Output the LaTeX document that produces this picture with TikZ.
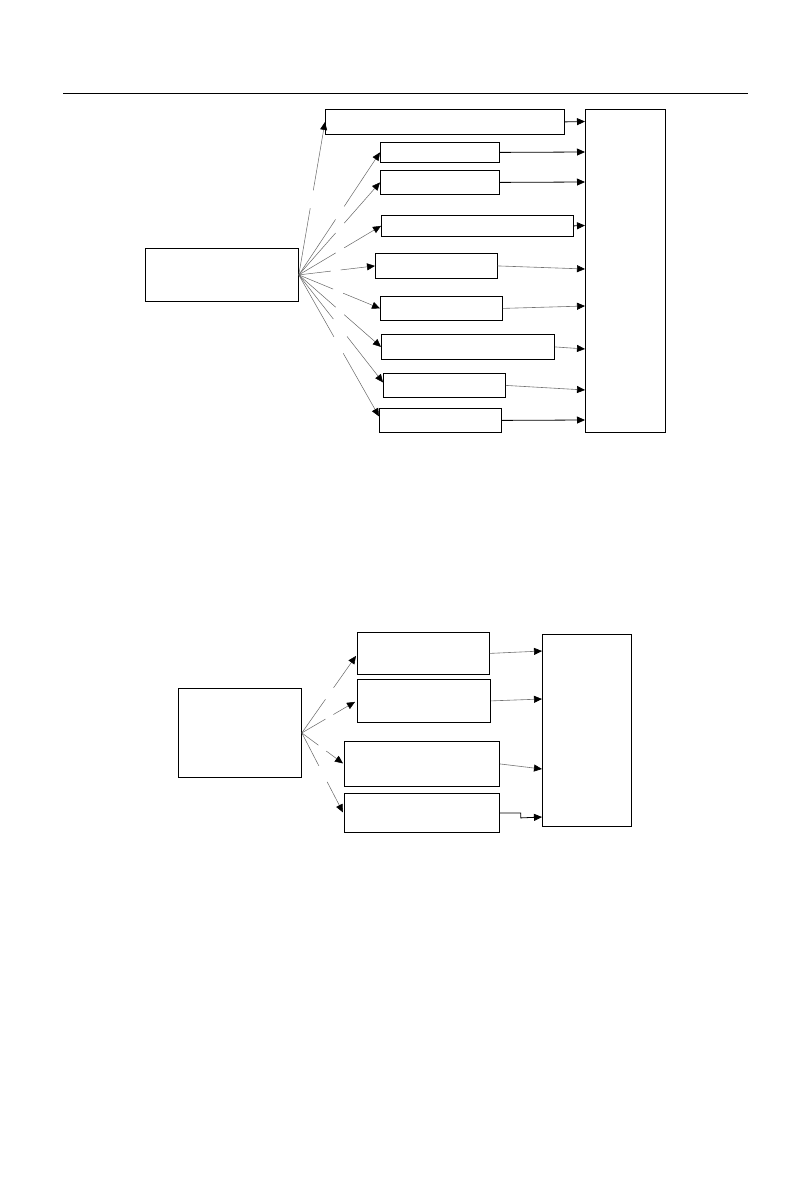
\documentclass[tikz,border=0pt]{standalone}
\usetikzlibrary{arrows.meta,calc}
\newcommand\gapline[5][]{%
  \draw[fanl] (#2) -- ($(#2)!#4!(#3)$);
  \draw[fanl,-{Triangle[length=8pt,width=7pt,color=black]},#1] ($(#2)!#5!(#3)$) -- (#3);}
\tikzset{
  box/.style={draw,line width=0.8pt,inner sep=0pt,anchor=north west},
  fanl/.style={draw=black!60,line width=0.5pt},
  arrk/.style={draw,line width=0.8pt,-{Triangle[length=8pt,width=7pt]}},
  arrg/.style={draw=black!55,line width=0.6pt,-{Triangle[length=8pt,width=7pt,color=black]}}
}
\begin{document}
\begin{tikzpicture}[x=1pt,y=-1pt]
\useasboundingbox (0,0) rectangle (811,1191);
\draw[line width=1pt] (63,93) -- (748,93);
% diagram 1
\node[box,minimum width=153pt,minimum height=53pt] (src) at (145,248) {};
\node[box,minimum width=80pt,minimum height=323pt] (big) at (585,109) {};
\node[box,minimum width=239pt,minimum height=25pt] (b1) at (325,109) {};
\node[box,minimum width=119pt,minimum height=20pt] (b2) at (380,142) {};
\node[box,minimum width=119pt,minimum height=24pt] (b3) at (380,170) {};
\node[box,minimum width=191.5pt,minimum height=21pt] (b4) at (381,215) {};
\node[box,minimum width=121.5pt,minimum height=25pt] (b5) at (375,253) {};
\node[box,minimum width=122pt,minimum height=24pt] (b6) at (380,296) {};
\node[box,minimum width=173pt,minimum height=25pt] (b7) at (381,334) {};
\node[box,minimum width=122pt,minimum height=24pt] (b8) at (383,373) {};
\node[box,minimum width=121.5pt,minimum height=24pt] (b9) at (379,408) {};
\coordinate (o1) at (src.east);
\coordinate (t8) at ($(b8.west)+(0,-3)$);
\coordinate (t9) at ($(b9.west)+(0,-4)$);
\gapline{o1}{b1.west}{0.436}{0.553}
\gapline{o1}{b2.west}{0.453}{0.559}
\gapline{o1}{b3.west}{0.453}{0.559}
\gapline{o1}{b4.west}{0.448}{0.552}
\gapline{o1}{b5.west}{0.42}{0.549}
\gapline{o1}{b6.west}{0.423}{0.547}
\gapline{o1}{b7.west}{0.448}{0.552}
\gapline{o1}{t8}{0.41}{0.573}
\gapline{o1}{t9}{0.437}{0.554}
\draw[arrk] (b1.east) -- ($(big.north west)+(0,12.5)$);
\draw[arrk] (b2.east) -- ($(big.north west)+(0,43)$);
\draw[arrk] (b3.east) -- ($(big.north west)+(0,73)$);
\draw[arrk] (b4.east) -- ($(big.north west)+(0,116.5)$);
\draw[arrg] (b5.east) -- ($(big.north west)+(0,160)$);
\draw[arrg] (b6.east) -- ($(big.north west)+(0,197)$);
\draw[arrg] (b7.east) -- ($(big.north west)+(0,240)$);
\draw[arrg] (b8.east) -- ($(big.north west)+(0,281)$);
\draw[arrk] (b9.east) -- ($(big.north west)+(0,311)$);
% diagram 2
\node[box,minimum width=123pt,minimum height=89pt] (s2) at (178,688) {};
\node[box,minimum width=89pt,minimum height=192pt] (r2) at (542,634) {};
\node[box,minimum width=132pt,minimum height=42pt] (c1) at (357,632) {};
\node[box,minimum width=133pt,minimum height=43pt] (c2) at (357,679) {};
\node[box,minimum width=155pt,minimum height=45pt] (c3) at (344,741) {};
\node[box,minimum width=155pt,minimum height=39pt] (c4) at (344,793) {};
\coordinate (o2) at (s2.east);
\coordinate (u1) at ($(c1.west)+(-1,2.5)$);
\coordinate (u2) at ($(c2.west)+(-2,1)$);
\coordinate (u3) at ($(c3.west)+(-1,-0.5)$);
\coordinate (u4) at ($(c4.west)+(-1,-0.5)$);
\gapline{o2}{u1}{0.436}{0.587}
\gapline{o2}{u2}{0.444}{0.593}
\gapline{o2}{u3}{0.405}{0.595}
\gapline{o2}{u4}{0.414}{0.616}
\draw[arrg] (c1.east) -- ($(r2.north west)+(0,17)$);
\draw[arrg] (c2.east) -- ($(r2.north west)+(0,65)$);
\draw[arrg] (c3.east) -- ($(r2.north west)+(0,135)$);
\coordinate (k1) at ($(c4.east)+(21,0)$);
\draw[arrk] (c4.east) -- (k1) -- ++(0,5) -- ($(r2.north west)+(0,183)$);
\end{tikzpicture}
\end{document}
